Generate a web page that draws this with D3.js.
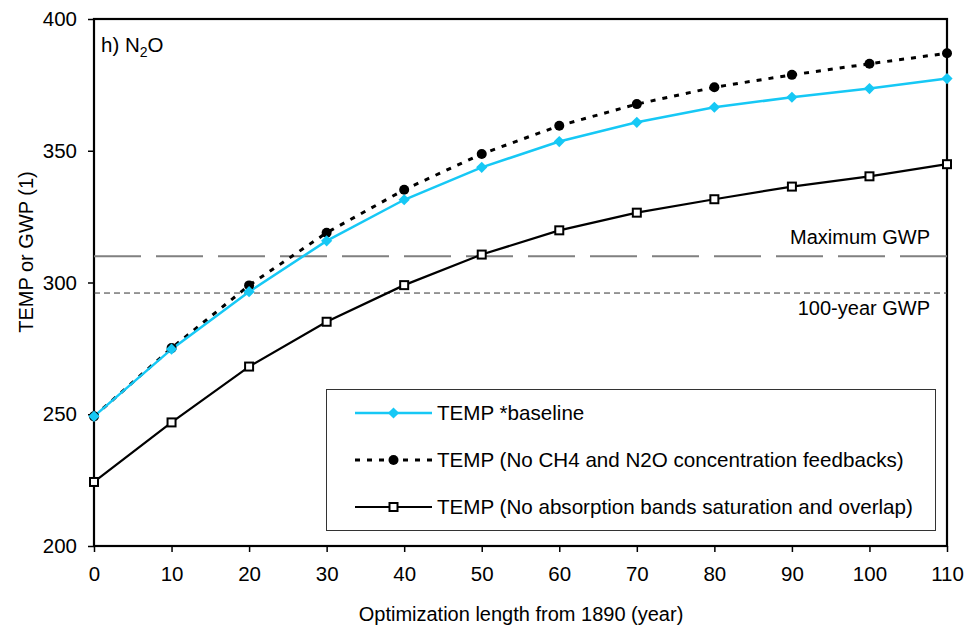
<!DOCTYPE html>
<html>
<head>
<meta charset="utf-8">
<script src="https://cdn.jsdelivr.net/npm/d3@7"></script>
<style>
	body { margin: 0; background: #fff; }
	svg text { font-family: 'Liberation Sans', Arial, sans-serif; fill: #000; }
</style>
</head>
<body>
<script>

// chart data
const years = [0, 10, 20, 30, 40, 50, 60, 70, 80, 90, 100, 110]
const baseline = [249.2, 274.7, 296.5, 315.8, 331.4, 343.7, 353.5, 360.8, 366.5, 370.3, 373.6, 377.4]
const noFeedbacks = [249.2, 275.1, 298.9, 318.9, 335.2, 348.8, 359.5, 367.7, 374.1, 378.8, 383.0, 387.0]
const noSaturation = [224.3, 246.9, 268.1, 285.1, 299.0, 310.6, 319.8, 326.5, 331.6, 336.4, 340.3, 344.9]
const xTicks = [0, 10, 20, 30, 40, 50, 60, 70, 80, 90, 100, 110]
const yTicks = [200, 250, 300, 350, 400]
const maxGWP = 310
const gwp100 = 296
const seriesNames = [
	'TEMP *baseline',
	'TEMP (No CH4 and N2O concentration feedbacks)',
	'TEMP (No absorption bands saturation and overlap)'
]

const width = 965
const height = 628
const margin = { top: 19, right: 18, bottom: 82, left: 94 }
const plotW = width - margin.left - margin.right
const plotH = height - margin.top - margin.bottom

const svg = d3.select('body')
	.append('svg')
	.attr('width', width)
	.attr('height', height)

const graph = svg.append('g')
	.attr('transform', `translate(${margin.left}, ${margin.top})`)

const xScale = d3.scaleLinear().domain([0, 110]).range([0, plotW])
const yScale = d3.scaleLinear().domain([200, 400]).range([plotH, 0])

// axes
const xAxis = graph.append('g')
	.attr('transform', `translate(0, ${plotH})`)
	.call(d3.axisBottom(xScale).tickValues(xTicks).tickSize(6).tickPadding(14))
const yAxis = graph.append('g')
	.call(d3.axisLeft(yScale).tickValues(yTicks).tickSize(6).tickPadding(11))

for (const ax of [xAxis, yAxis]) {
	ax.select('.domain').remove()
	ax.selectAll('line').attr('stroke', '#000').attr('stroke-width', 1.5)
	ax.selectAll('text').attr('font-size', 20.5).style('fill', '#000')
}

// frame
graph.append('rect')
	.attr('width', plotW)
	.attr('height', plotH)
	.attr('fill', 'none')
	.attr('stroke', '#000')
	.attr('stroke-width', 2.2)

// reference lines
graph.append('line')
	.attr('x1', 0).attr('x2', plotW)
	.attr('y1', yScale(maxGWP)).attr('y2', yScale(maxGWP))
	.attr('stroke', '#808080')
	.attr('stroke-width', 2)
	.attr('stroke-dasharray', '47,15')

graph.append('line')
	.attr('x1', 0).attr('x2', plotW)
	.attr('y1', yScale(gwp100)).attr('y2', yScale(gwp100))
	.attr('stroke', '#333')
	.attr('stroke-width', 1)
	.attr('stroke-dasharray', '6,4')

graph.append('text')
	.attr('x', plotW - 17).attr('y', yScale(maxGWP) - 12)
	.attr('text-anchor', 'end')
	.attr('font-size', 20)
	.text('Maximum GWP')

graph.append('text')
	.attr('x', plotW - 17).attr('y', yScale(gwp100) + 22)
	.attr('text-anchor', 'end')
	.attr('font-size', 20)
	.text('100-year GWP')

// series
const line = d3.line()
	.x((d, i) => xScale(years[i]))
	.y(d => yScale(d))

const cyan = '#16c8f5'

graph.append('path')
	.datum(noSaturation)
	.attr('d', line)
	.attr('fill', 'none')
	.attr('stroke', '#000')
	.attr('stroke-width', 2.2)

graph.append('path')
	.datum(noFeedbacks)
	.attr('d', line)
	.attr('fill', 'none')
	.attr('stroke', '#000')
	.attr('stroke-width', 3)
	.attr('stroke-dasharray', '5,7')

graph.append('path')
	.datum(baseline)
	.attr('d', line)
	.attr('fill', 'none')
	.attr('stroke', cyan)
	.attr('stroke-width', 2.5)

const diamond = d3.symbol().type(d3.symbolDiamond2).size(80)

graph.selectAll('.sq')
	.data(noSaturation)
	.join('rect')
	.attr('x', (d, i) => xScale(years[i]) - 4)
	.attr('y', d => yScale(d) - 4)
	.attr('width', 8)
	.attr('height', 8)
	.attr('fill', '#fff')
	.attr('stroke', '#000')
	.attr('stroke-width', 2)

graph.selectAll('.dot')
	.data(noFeedbacks)
	.join('circle')
	.attr('cx', (d, i) => xScale(years[i]))
	.attr('cy', d => yScale(d))
	.attr('r', 5)
	.attr('fill', '#000')

graph.selectAll('.dia')
	.data(baseline)
	.join('path')
	.attr('d', diamond)
	.attr('transform', (d, i) => `translate(${xScale(years[i])}, ${yScale(d)})`)
	.attr('fill', cyan)

// panel label
const panel = graph.append('text')
	.attr('x', 7).attr('y', 33)
	.attr('font-size', 20.5)
panel.append('tspan').text('h) N')
panel.append('tspan').attr('font-size', 14).attr('dy', 5).text('2')
panel.append('tspan').attr('dy', -5).text('O')

// axis titles
svg.append('text')
	.attr('x', margin.left + plotW / 2 + 0.5)
	.attr('y', 621)
	.attr('text-anchor', 'middle')
	.attr('font-size', 20)
	.text('Optimization length from 1890 (year)')

svg.append('text')
	.attr('transform', 'translate(33, 252) rotate(-90)')
	.attr('text-anchor', 'middle')
	.attr('font-size', 20)
	.text('TEMP or GWP (1)')

// legend
const legend = svg.append('g')
legend.append('rect')
	.attr('x', 326.5).attr('y', 389.5)
	.attr('width', 609).attr('height', 141)
	.attr('fill', '#fff')
	.attr('stroke', '#333')
	.attr('stroke-width', 1)

const rows = [413, 460, 507]
const lx1 = 355
const lx2 = 432

legend.append('line')
	.attr('x1', lx1).attr('x2', lx2).attr('y1', rows[0]).attr('y2', rows[0])
	.attr('stroke', cyan).attr('stroke-width', 2.5)
legend.append('path')
	.attr('d', diamond)
	.attr('transform', `translate(${(lx1 + lx2) / 2}, ${rows[0]})`)
	.attr('fill', cyan)

legend.append('line')
	.attr('x1', lx1).attr('x2', lx2).attr('y1', rows[1]).attr('y2', rows[1])
	.attr('stroke', '#000').attr('stroke-width', 3).attr('stroke-dasharray', '5,7')
legend.append('circle')
	.attr('cx', (lx1 + lx2) / 2).attr('cy', rows[1]).attr('r', 5).attr('fill', '#000')

legend.append('line')
	.attr('x1', lx1).attr('x2', lx2).attr('y1', rows[2]).attr('y2', rows[2])
	.attr('stroke', '#000').attr('stroke-width', 2.2)
legend.append('rect')
	.attr('x', (lx1 + lx2) / 2 - 4).attr('y', rows[2] - 4)
	.attr('width', 8).attr('height', 8)
	.attr('fill', '#fff').attr('stroke', '#000').attr('stroke-width', 2)

legend.selectAll('.lt')
	.data(seriesNames)
	.join('text')
	.attr('x', 437)
	.attr('y', (d, i) => rows[i] + 7)
	.attr('font-size', 20.6)
	.text(d => d)

</script>
</body>
</html>
